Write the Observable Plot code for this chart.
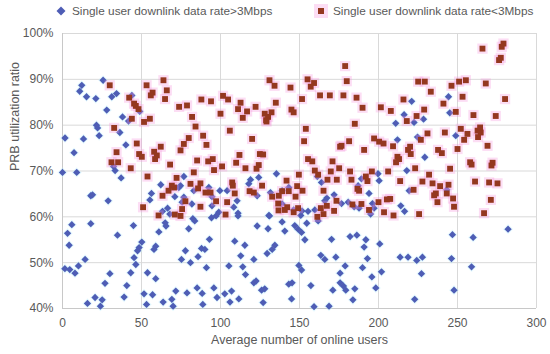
<!DOCTYPE html>
<html><head><meta charset="utf-8">
<script src="https://cdn.jsdelivr.net/npm/d3@7"></script>
<script src="https://cdn.jsdelivr.net/npm/@observablehq/plot@0.6"></script>
<style>
html,body{margin:0;padding:0;background:#fff;}
body{width:550px;height:354px;overflow:hidden;font-family:"Liberation Sans",Arial,sans-serif;color:#595959;}
#legend{position:relative;height:22px;font-size:11.8px;}
#legend .item{position:absolute;top:4px;display:flex;align-items:center;white-space:nowrap;}
#legend svg{margin-right:5px;}
</style></head><body>
<div id="legend"></div>
<div id="chart"></div>
<script>
const seriesNames = ["Single user downlink data rate>3Mbps", "Single user downlink data rate<3Mbps"];
const xTitle = "Average number of online users";
const yTitle = "PRB utilization ratio";
const xTicks = [0, 50, 100, 150, 200, 250, 300];
const yTicks = [40, 50, 60, 70, 80, 90, 100];

// [average online users, PRB utilization %] — rate > 3Mbps
const above3Mbps = [
[5.9,58.3],[17.9,58.5],[3.2,56.4],[4.2,53.8],[44.9,58.1],[34.8,56.0],[65,58.7],[65.5,58.0],[61,56.7],[50.2,54.5],[48.5,53.3],[47.5,52.6],[59,53.6],[57.9,52.9],[45.3,51.1],[46.4,49.6],[14.3,50.7],[10.1,49.3],[1.5,48.7],[4.6,48.5],[7.9,47.7],[30,47.6],[43.2,47.8],[53.8,47.8],[59,46.5],[26.9,45.5],[40.7,45.0],[71.7,43.8],[39,42.5],[51.6,43.2],[57,43.0],[20.6,42.4],[25.1,41.9],[24,40.5],[15.8,41.1],[53.2,40.9],[63.7,41.4],[69.2,42.0],[70,40.5],
[22.2,79.4],[23.2,77.7],[1.6,77.2],[13.3,77.0],[36.3,78.4],[7.3,74.0],[40.1,75.7],[32.3,71.0],[33.3,70.1],[9,69.7],[0,69.7],[37.1,68.5],[17.9,64.6],[19,64.8],[28.9,63.5],[62.2,67.0],[56.3,65.1],[55.3,63.7],[71.1,64.4],[66.5,61.9],[63.3,61.2],[73.6,66.4],[67.9,60.6],
[12.2,88.7],[10.9,87.4],[25.7,89.8],[15.2,86.2],[21.1,85.8],[31.2,86.2],[34.2,86.9],[43.9,86.5],[28,83.3],[38,81.8],[41.8,80.9],[48.9,83.0],[21.5,80.0],
[135.4,69.4],[124.2,68.6],[119,68.1],[117.9,67.2],[76.8,68.8],[74.7,66.8],[83.1,65.7],[92.6,66.4],[104.2,65.7],[94.6,64.4],[99.6,65.7],[110.5,63.5],[123.2,64.6],[131.6,65.3],[139,65.7],[143.2,66.4],[108.4,62.1],[111.1,60.8],[98.9,61.0],[94.6,62.4],[81.9,62.8],[76.8,64.3],[75.7,63.2],[130.6,60.3],[139,62.8],[146.3,61.5],[151.6,61.3],
[82.5,59.6],[83.7,59.1],[94.3,59.8],[97.2,60.2],[79.9,57.4],[93,55.1],[88,53.1],[90.1,52.9],[85.8,51.3],[77.8,52.6],[75.3,50.7],[81,50.0],[91.1,48.9],[111.1,60.2],[123.2,58.0],[130.1,57.4],[131,60.2],[109,54.7],[115.4,53.8],[112.8,51.5],[121.1,50.7],[105.3,49.3],[114.1,49.1],[115.8,47.4],[134.4,53.8],[132.7,52.9],[129.5,52.0],[139,58.9],[140.7,56.9],[147,58.1],[149.1,57.3],[151.3,56.6],[149.6,49.4],[151.3,48.4],[121.1,45.6],[122.5,46.0],[145.3,45.6],[143.2,45.3],[126,44.0],[128,44.3],[78.8,43.4],[85.2,44.5],[88.4,43.3],[95.8,44.5],[97.8,42.4],[102.7,43.2],[107,43.8],[106,41.4],[111.6,42.1],[88.8,40.9],[127,41.3],[145,42.1],
[154.6,58.6],[153.4,55.0],[161.8,59.1],[170.3,55.1],[182,55.7],[186.3,56.0],[192,55.0],[190.9,53.4],[200.8,54.1],[163.5,51.6],[166,50.7],[173,51.2],[193,50.9],[213.7,51.2],[218.7,51.2],[224.2,50.5],[178.9,49.3],[189.9,48.9],[175.7,47.7],[201.9,48.0],[195.8,46.9],[175.7,45.6],[177.8,44.9],[179.3,44.0],[185,44.3],[171.1,44.0],[157.2,45.0],[198.3,44.5],[183.8,41.9],[168.7,40.5],[159.2,40.4],[222.9,42.0],
[246.8,56.1],[259.9,55.5],[282,57.3],[227.8,51.2],[246.2,50.9],[258.9,49.1],[227.2,47.6],[247.8,44.0],
[210.9,80.4],[212,76.8],[224.7,77.4],[217.9,70.1],[161.3,68.8],[163.9,67.5],[189.2,68.3],[187.1,66.8],[199.7,69.4],[200.4,67.9],[194,65.1],[171.9,64.8],[167.3,64.1],[166,63.5],[176.6,62.9],[180.8,63.2],[184.6,62.2],[187.7,61.9],[196.2,62.9],[197.2,61.9],[219.4,65.7],[214.1,62.4],[216.5,61.2],[155.4,61.2],[159.7,61.5],[150.8,60.3],[195,60.6],
[221,85.2],[216.2,82.3],[222.5,80.6],[228.5,81.3],[244.3,86.2],[245.1,82.7],[248.9,77.7],[229.3,73.0],[243.2,65.9]
];

// [average online users, PRB utilization %] — rate < 3Mbps
const below3Mbps = [
[29.9,88.7],[53.2,88.7],[63.9,89.8],[66,87.6],[57,87.1],[55.9,86.5],[42.2,86.0],[64.9,85.7],[45.3,84.7],[46.4,84.2],[48.1,83.5],[73.8,84.0],[43.9,81.4],[51.6,80.7],[55.3,81.4],
[131,89.8],[134.2,88.6],[144.3,88.2],[78.8,84.3],[87.9,85.6],[94,85.2],[101.6,86.4],[104.8,85.6],[112.7,84.9],[122.2,84.0],[111.1,83.5],[116.8,83.0],[135,84.9],[151.6,85.7],[144.9,83.4],[146.3,82.8],[100,82.5],[82,81.8],[114.1,81.6],[128,82.5],[132.3,82.8],[130.1,81.8],[128.9,81.1],
[178.9,92.9],[179.9,89.6],[155.1,90.0],[159.2,89.2],[157.1,88.4],[163,86.5],[169.2,86.5],[177.8,86.5],[186.1,86.0],[189.9,83.8],[201.5,83.9],[207.8,83.1],[215.8,85.6],[225.1,89.5],[229.3,89.5],[224.1,82.0],[228.9,83.4],[217.9,80.9],
[265.8,96.7],[279.1,97.8],[278,97.1],[276.3,94.2],[277.4,94.7],[233.1,87.3],[246.2,88.6],[251,89.5],[255.3,89.8],[267.9,89.1],[253.2,86.2],[280.1,85.7],[241.1,84.7],[248.9,82.9],[260.1,82.2],[274.2,82.0],
[32.7,79.4],[47,76.0],[62.2,75.3],[34.2,74.1],[58,74.2],[59.7,73.4],[58.6,72.6],[48.5,73.7],[50.2,73.1],[68.1,71.4],[31,71.9],[35.2,71.9],[43.2,70.6],[53.8,68.8],[72.2,68.5],[69.2,66.8],[70.6,66.4],[67.1,65.7],[63.3,64.6],[51,62.1],[71.1,60.5],[60.8,60.3],
[84.2,79.7],[105.9,78.8],[129.1,80.8],[79.9,77.2],[76.8,75.9],[74.7,74.5],[89,77.7],[91.1,75.7],[120,77.0],[112,73.5],[124.9,73.7],[127,73.6],[95.1,72.6],[92.2,72.1],[85.2,72.3],[101,71.0],[109.9,71.8],[95.9,70.2],[83.1,69.7],[115.8,70.6],[124.2,71.3],[122.8,70.5],[149.6,69.2],[81,67.2],[87.3,67.3],[107.4,67.5],[107.8,66.8],[141.8,67.9],[126.3,66.8],[148.5,66.7],[85.8,66.2],[90.5,65.3],[93.7,65.3],[109,65.1],[118.4,65.6],[121.1,65.3],[139,65.6],[136.9,64.6],[143.2,65.6],[147.5,64.4],[132.7,64.4],[77.8,63.4],[97.2,63.4],[104.2,63.2],[136.5,62.9],[87.3,62.2],[142.2,62.1],[149.1,61.9],[136.7,61.4],[140.7,61.5],[75.7,61.7],[146.3,61.0],
[185,80.3],[154,79.2],[152.9,76.5],[176.6,75.5],[175.7,75.3],[181.4,76.5],[190.9,74.6],[197.2,77.1],[200.4,76.4],[203.2,76.0],[209.2,75.4],[220,75.3],[218.7,74.6],[226.8,76.8],[212,73.1],[213,72.6],[211.1,71.9],[220.4,73.7],[155.4,72.6],[158.1,72.1],[170.9,72.1],[175.1,70.6],[159.7,70.1],[161.8,69.2],[169.8,69.9],[182,69.9],[195.8,69.9],[206.1,69.9],[223.2,70.6],[192,68.8],[193,67.8],[167.7,68.1],[173.6,68.1],[182.9,68.1],[213.7,67.8],[227.8,67.7],[186.7,66.1],[187.7,65.7],[151.9,65.7],[165.2,65.7],[222.2,65.9],[173.4,63.5],[200,63.2],[205.3,63.8],[207.4,63.9],[183.5,62.7],[189.2,62.8],[167.3,62.4],[163.5,61.9],[171.9,61.3],[194,61.5],[165.2,60.6],[203.5,61.0],[209.5,60.3],[225.7,60.6],
[252.1,79.2],[256.3,78.1],[254.2,76.8],[262.7,78.8],[264.7,78.4],[263,77.4],[264.3,79.5],[231,78.2],[242,78.4],[269,75.5],[237.7,74.6],[240.1,73.9],[250,74.8],[258,71.9],[258.9,71.4],[272.2,71.8],[271.5,71.2],[245.3,70.5],[232,69.2],[234.2,67.3],[239,66.7],[244.3,67.0],[261.1,67.7],[270,67.5],[275.3,67.3],[236.3,65.1],[235.2,64.7],[243.2,65.1],[247.2,64.0],[271.1,63.7],[237.3,63.2],[247.8,62.2],[266.8,60.8],
[74.7,60.2],[103.2,60.5],[161.3,60.0]
];

const colors = {above: "#4e5db5", below: "#94381f", pink: "#f590dc", cyan: "#b8f2ff"};

// Legend (HTML)
const legend = document.getElementById("legend");
function legendItem(left, name, symbol) {
  const d = document.createElement("div");
  d.className = "item"; d.style.left = left + "px";
  d.innerHTML = symbol + "<span>" + name + "</span>";
  legend.appendChild(d);
}
legendItem(55, seriesNames[0], `<svg width="12" height="12"><path d="M6,1.5L10.5,6L6,10.5L1.5,6Z" fill="${colors.above}"/></svg>`);
legendItem(314, seriesNames[1], `<svg width="14" height="14"><rect x="0" y="0" width="14" height="14" fill="${colors.pink}" fill-opacity="0.3"/><rect x="4" y="4" width="6" height="6" fill="${colors.below}"/></svg>`);

const font = '"Liberation Sans", Arial, sans-serif';
const chart = Plot.plot({
  width: 550,
  height: 332,
  marginTop: 11,
  marginLeft: 62,
  marginRight: 14,
  marginBottom: 46,
  style: {fontFamily: font, fontSize: "12px", color: "#595959", background: "#fff", overflow: "visible"},
  x: {domain: [0, 300], ticks: xTicks, tickSize: 0, tickPadding: 10, label: null},
  y: {domain: [40, 100], ticks: yTicks, tickFormat: d => d + "%", tickSize: 0, tickPadding: 9, label: null},
  marks: [
    Plot.ruleX(xTicks, {stroke: "#d9d9d9", strokeWidth: 1}),
    Plot.ruleY(yTicks, {stroke: "#d9d9d9", strokeWidth: 1}),
    Plot.ruleX([0], {stroke: "#c8c8c8"}),
    Plot.ruleY([40], {stroke: "#c8c8c8"}),
    Plot.dot(above3Mbps, {x: d => d[0], y: d => d[1], symbol: "diamond2", r: 4.6, fill: colors.cyan, fillOpacity: 0.35, stroke: "none"}),
    Plot.dot(above3Mbps, {x: d => d[0], y: d => d[1], symbol: "diamond2", r: 3.3, fill: colors.above, stroke: "none"}),
    Plot.dot(below3Mbps, {x: d => d[0], y: d => d[1], symbol: "square", r: 5.8, fill: colors.pink, fillOpacity: 0.3, stroke: "none"}),
    Plot.dot(below3Mbps, {x: d => d[0], y: d => d[1], symbol: "square", r: 3.3, fill: colors.below, stroke: "none"}),
    Plot.text([xTitle], {frameAnchor: "bottom", dy: 35, fontSize: 12.5, fill: "#595959"}),
    Plot.text([yTitle], {frameAnchor: "left", rotate: -90, dx: -48, fontSize: 12.5, fill: "#595959"})
  ]
});
document.getElementById("chart").appendChild(chart);
</script>
</body></html>
